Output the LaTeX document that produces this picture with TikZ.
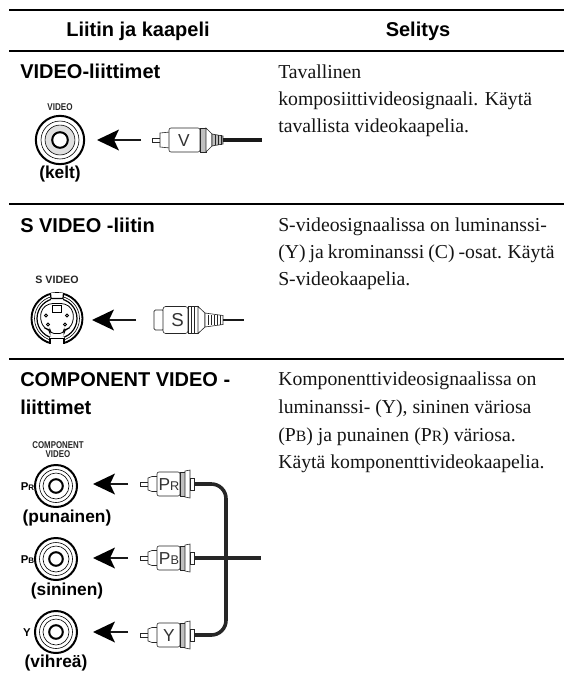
\documentclass[tikz,border=0pt]{standalone}
\usepackage{fontspec}
\usetikzlibrary{calc}
\setmainfont{Liberation Serif}
\setsansfont{Liberation Sans}
\newcommand{\fsz}[1]{\fontsize{#1}{#1}\selectfont}
% px units: 1px = 0.75pt
\tikzset{
  x=0.75pt,y=-0.75pt,
  rulel/.style={line width=1.9pt,black},
  head/.style={font=\sffamily\bfseries\fsz{15},anchor=base,inner sep=0},
  sect/.style={font=\sffamily\bfseries\fsz{15},anchor=base west,inner sep=0},
  body/.style={font=\rmfamily\fsz{14.8},anchor=base west,inner sep=0,text=black!92},
  capt/.style={font=\sffamily\bfseries\fsz{13},anchor=base,inner sep=0},
  tinyl/.style={font=\sffamily\bfseries\fsz{7.4},anchor=base,inner sep=0,text=black!85},
  plugl/.style={draw=black!85,line width=0.45pt,fill=white},
  bandf/.style={draw=black!85,line width=0.45pt,fill=black!25},
  cable/.style={line width=2.7pt,black!85},
  plugtxt/.style={font=\sffamily\fsz{13},inner sep=0,text=black!80}
}
% arrow: #1 tail name, #2 tip name
\newcommand{\bigarrow}[2]{%
  \draw[line width=1.1pt,black!90] (#1) -- ($(#2)+(15,0)$);
  \fill[black] (#2) -- ++(22,-10.5) -- ++(-5,10.5) -- ++(5,10.5) -- cycle;
}
% round jack: centre, scale, name, fill of the ring
\newcommand{\rca}[4]{%
  \begin{scope}[shift={(#1)},scale=#2]
    \coordinate (#3) at (0,0);
    \draw[line width=1.5pt,fill=white] (0,0) circle (21);
    \draw[line width=0.45pt] (0,0) circle (16.5);
    \draw[line width=0.45pt,fill=#4] (0,0) circle (13);
    \draw[line width=1.5pt,fill=white] (0,0) circle (6.8);
  \end{scope}
}
% component style RCA plug: position, name, text
\newcommand{\rcaplug}[3]{%
  \begin{scope}[shift={(#1)}]
    \coordinate (#2) at (54,0);
    \draw[plugl] (0,-1.8) -- (9,-1.8) -- (9,1.8) -- (0,1.8) -- cycle;
    \draw[plugl] (8,-6) -- (12,-7.5) -- (18,-7.5) -- (18,7.5) -- (12,7.5) -- (8,6) -- cycle;
    \draw[plugl,rounded corners=1.5pt] (17,-12) -- (40,-12) -- (40,12) -- (17,12) -- cycle;
    \draw[bandf] (40,-12) rectangle (45,12);
    \draw[plugl] (45,-13) -- (50,-14) -- (50,14) -- (45,13) -- cycle;
    \draw[plugl] (50,-6) rectangle (54,6);
    \node[plugtxt] at (29,0.5) {#3};
  \end{scope}
}
\begin{document}
\begin{tikzpicture}
\useasboundingbox (0,0) rectangle (564,682);
% rules
\foreach \yy in {10,51,204,359}{ \draw[rulel] (9,\yy) -- (564,\yy); }
% headers
\node[head] (h1) at (138,36) {Liitin ja kaapeli};
\node[head] (h2) at (418,36) {Selitys};
% section 1
\node[sect] (s1) at (20,78) {VIDEO-liittimet};
\node[tinyl,xscale=.82] (lv) at (60,110) {VIDEO};
\rca{60,140}{1.15}{j1}{black!12}
\node[capt] (c1) at (60,178) {(kelt)};
\coordinate (a1t) at (97,140);
\coordinate (a1e) at (141,140);
\bigarrow{a1e}{a1t}
\begin{scope}[shift={(152,140)}]
  \coordinate (p1) at (71,0);
  \draw[plugl] (0,-2) -- (9,-2) -- (9,2) -- (0,2) -- cycle;
  \draw[plugl] (8,-7) -- (18,-8) -- (18,8) -- (8,7) -- cycle;
  \draw[plugl,rounded corners=1.5pt] (17,-12) -- (48,-12) -- (48,12) -- (17,12) -- cycle;
  \draw[bandf] (48,-12) rectangle (54,12);
  \draw[plugl] (54,-12) -- (60,-6) -- (60,6) -- (54,12) -- cycle;
  \draw[bandf] (60,-6) -- (71,-4) -- (71,4) -- (60,6) -- cycle;
  \foreach \q in {63,66,69}{ \draw[line width=0.45pt,black!85] (\q,-5) -- (\q,5); }
  \node[plugtxt] at (32,0.5) {V};
\end{scope}
\coordinate (c1e) at (262,140);
\draw[line width=3pt,black!90] (p1) -- (c1e);
% section 1 text
\node[body] (t11) at (278,78) {Tavallinen};
\node[body] (t12) at (278,105) {komposiittivideosignaali. Käytä};
\node[body] (t13) at (278,132) {tavallista videokaapelia.};
% section 2
\node[sect] (s2) at (20,232) {S VIDEO -liitin};
\node[tinyl,font=\sffamily\bfseries\fsz{8}] (ls) at (57,283) {S VIDEO};
\begin{scope}[shift={(57,318.5)}]
  \coordinate (j2) at (0,0);
  \draw[line width=1.4pt,fill=white] (0,0) circle (25.5);
  \draw[line width=0.45pt] (0,0) circle (22.5);
  \draw[line width=0.9pt] (0,0) circle (20);
  \fill[white] (-6,-26) rectangle (6,-18);
  \fill[white] (-7,18) rectangle (7,26);
  \draw[line width=0.9pt] (-6.5,-25.5) -- (-6,-20) -- (6,-20) -- (6.5,-25.5);
  \draw[line width=0.9pt] (-7,25.5) -- (-7,20) -- (7,20) -- (7,25.5);
  \draw[line width=0.6pt,rounded corners=3pt] (-8,-15) -- (8,-15) -- (15,-10) -- (17,0) -- (13,10) -- (7,11) -- (7,15) -- (-7,15) -- (-7,11) -- (-13,10) -- (-17,0) -- (-15,-10) -- cycle;
  \draw[line width=0.6pt] (-5,-13.5) rectangle (4.5,-6.5);
  \foreach \px/\py in {-9/6,8/6,-11/-3,10/-3}{ \draw[line width=0.7pt,fill=white] (\px,\py) circle (1.5); }
\end{scope}
\coordinate (a2t) at (92,320);
\coordinate (a2e) at (136,320);
\bigarrow{a2e}{a2t}
\begin{scope}[shift={(154,320)}]
  \coordinate (p2) at (69,0);
  \draw[plugl,rounded corners=1pt] (10,-10) -- (0,-10) -- (0,10) -- (10,10) -- cycle;
  \draw[plugl,rounded corners=2pt] (9,-13.5) -- (34,-13.5) -- (34,13.5) -- (9,13.5) -- cycle;
  \draw[plugl] (34,-13.5) rectangle (44,13.5);
  \draw[line width=0.45pt,black!85] (37,-13.5) -- (37,13.5) (40,-13.5) -- (40,13.5);
  \draw[plugl] (44,-13.5) -- (51,-7) -- (51,7) -- (44,13.5) -- cycle;
  \draw[plugl] (51,-7) -- (69,-4.5) -- (69,4.5) -- (51,7) -- cycle;
  \foreach \q in {54,57,60,63,66}{ \draw[line width=0.55pt,black!85] (\q,-5) -- (\q,5); }
  \node[plugtxt,font=\sffamily\fsz{14}] at (23.5,0.5) {S};
\end{scope}
\coordinate (c2e) at (244,320);
\draw[line width=2.2pt,black!90] (p2) -- (c2e);
% section 2 text
\node[body] (t21) at (278,231) {S-videosignaalissa on luminanssi-};
\node[body] (t22) at (278,258) {\spaceskip=3pt (Y) ja krominanssi (C) -osat. Käytä};
\node[body] (t23) at (278,285) {S-videokaapelia.};
% section 3
\node[sect] (s3) at (20,386) {COMPONENT VIDEO -};
\node[sect] (s3b) at (20,414) {liittimet};
\node[tinyl,xscale=.8] (lc1) at (58,448) {COMPONENT};
\node[tinyl,xscale=.8] (lc2) at (58,457) {VIDEO};
% jacks
\rca{56,486}{1}{j3}{white}
\rca{56,559}{1}{j4}{white}
\rca{56,632}{1}{j5}{white}
\node[font=\sffamily\bfseries\fsz{8.5},anchor=base,inner sep=0] (lpr) at (27.5,490) {P\fsz{6}R};
\node[font=\sffamily\bfseries\fsz{8.5},anchor=base,inner sep=0] (lpb) at (27.5,563) {P\fsz{6}B};
\node[font=\sffamily\bfseries\fsz{8.5},anchor=base,inner sep=0] (ly) at (27,636) {Y};
\node[capt] (c3) at (67,522) {(punainen)};
\node[capt] (c4) at (67,595) {(sininen)};
\node[capt] (c5) at (56,667) {(vihreä)};
% arrows
\foreach \yy/\nm in {484/a,558/b,632/c}{
  \coordinate (a3t\nm) at (93,\yy);
  \coordinate (a3e\nm) at (128,\yy);
  \bigarrow{a3e\nm}{a3t\nm}
}
% plugs and cables
\coordinate (c3e) at (261,558);
\rcaplug{140,484}{pr}{P\fsz{9.5}R}
\rcaplug{140,558}{pb}{P\fsz{9.5}B}
\rcaplug{140,635}{py}{Y}
\draw[cable,rounded corners=11pt] (pr) -- (226,484) -- (226,635) -- (py);
\draw[cable] (pb) -- (c3e);
% section 3 text
\node[body] (t31) at (278,385) {Komponenttivideosignaalissa on};
\node[body] (t32) at (278,413) {luminanssi- (Y), sininen väriosa};
\node[body] (t33) at (278,441) {(P\fsz{11.8}B\fsz{14.8}) ja punainen (P\fsz{11.8}R\fsz{14.8}) väriosa.};
\node[body] (t34) at (278,468) {Käytä komponenttivideokaapelia.};
\end{tikzpicture}
\end{document}
